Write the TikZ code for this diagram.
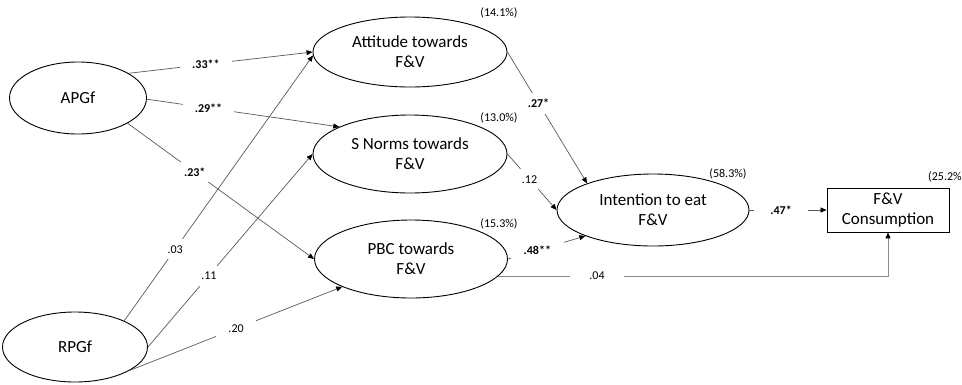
\documentclass[tikz,border=0pt]{standalone}
\usepackage{fontspec}
\setmainfont{Carlito}
\usetikzlibrary{shapes.geometric,arrows.meta}
\begin{document}
\begin{tikzpicture}[x=1pt,y=-1pt,
  lat/.style={ellipse,draw=black,line width=0.9pt,inner sep=0pt,align=center,font=\fontsize{17}{20}\selectfont},
  obs/.style={rectangle,draw=black,line width=0.9pt,inner sep=0pt,minimum width=122pt,minimum height=44pt,align=center,font=\fontsize{17}{20}\selectfont},
  conn/.style={draw=black!65,line width=0.7pt,-{Triangle[length=6pt,width=5pt,color=black]}},
  coef/.style={fill=white,inner xsep=12pt,inner ysep=6pt,font=\fontsize{12}{14}\selectfont},
  sig/.style={coef,font=\fontsize{12}{14}\selectfont\bfseries},
  rsq/.style={inner sep=0pt,font=\fontsize{12}{14}\selectfont}]
\useasboundingbox (0,0) rectangle (962,384);
% nodes
\node[lat,minimum width=137pt,minimum height=72pt] (apg) at (78,98) {APGf};
\node[lat,minimum width=145pt,minimum height=70pt] (rpg) at (75,347) {RPGf};
\node[lat,minimum width=194pt,minimum height=70pt] (att) at (410,52) {Attitude towards\\F\&V};
\node[lat,minimum width=194pt,minimum height=78pt] (sn) at (410,154) {S Norms towards\\F\&V};
\node[lat,minimum width=193pt,minimum height=78pt] (pbc) at (411,259) {PBC towards\\F\&V};
\node[lat,minimum width=192pt,minimum height=72pt] (int) at (653,210) {Intention to eat\\F\&V};
\node[obs] (fv) at (888,210) {F\&V\\Consumption};
% R-squared
\node[rsq] (r1) at (499,13) {(14.1\%)};
\node[rsq] (r2) at (499,118) {(13.0\%)};
\node[rsq] (r3) at (499,224) {(15.3\%)};
\node[rsq] (r4) at (728,174) {(58.3\%)};
\node[rsq,anchor=west] (r5) at (928,177) {(25.2\%};
% paths from APGf
\draw[conn] (apg.26) -- node[sig,pos=.42] (c1) {.33**} (att.west);
\draw[conn] (apg.-1) -- node[sig,pos=.32] (c2) {.29**} (sn.159);
\draw[conn] (apg.-27) -- node[sig,pos=.36] (c3) {.23*} (pbc.west);
% paths from RPGf
\draw[conn] (rpg.28) -- node[coef,pos=.27] (c4) {.03} (att.182);
\draw[conn] (rpg.east) -- node[coef,pos=.37] (c5) {.11} (sn.west);
\draw[conn] (rpg.-23) -- node[coef,pos=.5] (c6) {.20} (pbc.202);
% to intention
\draw[conn] (att.east) -- node[sig,pos=.39] (c7) {.27*} (int.158);
\draw[conn] (sn.east) -- node[coef,pos=.45] (c8) {.12} (int.west);
\draw[conn] (pbc.east) -- node[sig,pos=.38,inner xsep=13pt] (c9) {.48**} (int.201);
% to behaviour
\draw[conn] (int.east) -- node[sig,pos=.41,inner xsep=16pt] (c10) {.47*} (fv.west);
\draw[conn,draw=black!45,line width=1pt] (pbc.-11) -- node[coef,pos=.253,inner xsep=19pt] (c11) {.04} (pbc.-11 -| fv.south) -- (fv.south);
\end{tikzpicture}
\end{document}
